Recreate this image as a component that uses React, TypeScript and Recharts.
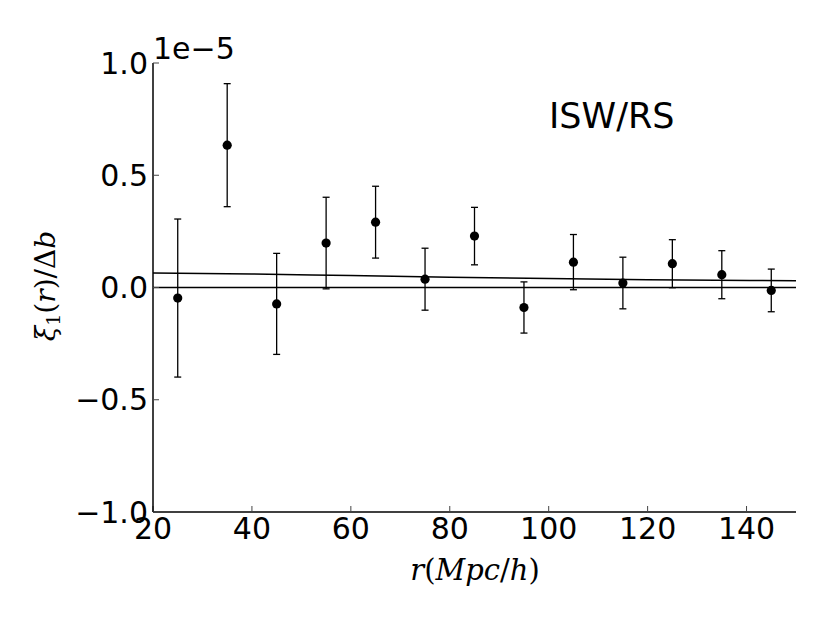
import React from "react";
import {
  ComposedChart,
  Scatter,
  Line,
  XAxis,
  YAxis,
  ErrorBar,
  ReferenceLine,
} from "recharts";

// values in units of 1e-5
const radii = [25, 35, 45, 55, 65, 75, 85, 95, 105, 115, 125, 135, 145];
const xi = [-0.047, 0.634, -0.073, 0.198, 0.291, 0.037, 0.229, -0.089, 0.113, 0.02, 0.106, 0.057, -0.013];
const xiErr = [0.352, 0.274, 0.225, 0.204, 0.16, 0.138, 0.128, 0.114, 0.123, 0.115, 0.107, 0.107, 0.095];

const modelR = [20, 40, 60, 80, 100, 120, 150];
const modelXi = [0.065, 0.06, 0.053, 0.046, 0.04, 0.035, 0.03];

const xTicks = [20, 40, 60, 80, 100, 120, 140];
const yTicks = [-1.0, -0.5, 0.0, 0.5, 1.0];

const points = radii.map((r, i) => ({ r, xi: xi[i], err: xiErr[i] }));
const model = modelR.map((r, i) => ({ r, model: modelXi[i] }));

const W = 830;
const H = 623;
const tickFont = { fontSize: 30, fontFamily: "DejaVu Sans", fill: "#000" };

const fmtY = (v: number) => (v < 0 ? "\u2212" + Math.abs(v).toFixed(1) : v.toFixed(1));

const Dot = (props: any) => <circle cx={props.cx} cy={props.cy} r={4.6} fill="#000" />;

export default function App() {
  return (
    <div style={{ position: "absolute", left: 0, top: 0, width: W, height: H, background: "#fff" }}>
      <ComposedChart
        width={W}
        height={H}
        margin={{ top: 63, right: 34, bottom: 71, left: 93 }}
      >
        <XAxis
          xAxisId="b"
          dataKey="r"
          type="number"
          domain={[20, 150]}
          ticks={xTicks}
          allowDataOverflow
          tick={tickFont}
          tickSize={-6}
          tickMargin={12}
          height={40}
          stroke="#000"
          axisLine={{ stroke: "#000", strokeWidth: 1.5 }}
          tickLine={{ stroke: "#444", strokeWidth: 1 }}
        />
        <XAxis
          xAxisId="t"
          orientation="top"
          dataKey="r"
          type="number"
          domain={[20, 150]}
          ticks={xTicks}
          allowDataOverflow
          tickFormatter={() => ""}
          tickSize={-6}
          height={0}
          axisLine={{ stroke: "#000", strokeWidth: 1.5 }}
          tickLine={{ stroke: "#444", strokeWidth: 1 }}
        />
        <YAxis
          yAxisId="l"
          type="number"
          domain={[-1, 1]}
          ticks={yTicks}
          allowDataOverflow
          tickFormatter={fmtY}
          tick={tickFont}
          tickSize={-6}
          tickMargin={11}
          width={60}
          axisLine={{ stroke: "#000", strokeWidth: 1.5 }}
          tickLine={{ stroke: "#444", strokeWidth: 1 }}
        />
        <YAxis
          yAxisId="r"
          orientation="right"
          type="number"
          domain={[-1, 1]}
          ticks={yTicks}
          allowDataOverflow
          tickFormatter={() => ""}
          tickSize={-6}
          width={0}
          axisLine={{ stroke: "#000", strokeWidth: 1.5 }}
          tickLine={{ stroke: "#444", strokeWidth: 1 }}
        />
        <ReferenceLine xAxisId="b" yAxisId="l" y={0} stroke="#000" strokeWidth={1.5} />
        <Line
          xAxisId="b"
          yAxisId="l"
          data={model}
          dataKey="model"
          type="monotone"
          stroke="#000"
          strokeWidth={1.5}
          dot={false}
          activeDot={false}
          isAnimationActive={false}
        />
        <Scatter
          xAxisId="b"
          yAxisId="l"
          data={points}
          dataKey="xi"
          shape={Dot}
          isAnimationActive={false}
        >
          <ErrorBar dataKey="err" direction="y" width={3.5} stroke="#000" strokeWidth={1.3} />
        </Scatter>
      </ComposedChart>
      <svg
        width={W}
        height={H}
        style={{ position: "absolute", left: 0, top: 0, pointerEvents: "none" }}
      >
        <text x={153} y={59} fontSize={30} fontFamily="DejaVu Sans" fill="#000">
          1e{"\u2212"}5
        </text>
        <text x={549} y={128} fontSize={35} fontFamily="DejaVu Sans" fill="#000">
          ISW/RS
        </text>
        <text
          x={475}
          y={580}
          fontSize={29}
          fontFamily="DejaVu Serif"
          textAnchor="middle"
          fill="#000"
        >
          <tspan fontStyle="italic">r</tspan>(<tspan fontStyle="italic">Mpc</tspan>/
          <tspan fontStyle="italic">h</tspan>)
        </text>
        <text
          x={0}
          y={0}
          fontSize={28}
          fontFamily="DejaVu Serif"
          textAnchor="middle"
          fill="#000"
          transform="translate(55,286) rotate(-90)"
        >
          <tspan fontStyle="italic">{"\u03be"}</tspan>
          <tspan fontSize={19} dy={5}>1</tspan>
          <tspan dy={-5}>(</tspan>
          <tspan fontStyle="italic">r</tspan>
          <tspan>)/{"\u0394"}</tspan>
          <tspan fontStyle="italic">b</tspan>
        </text>
      </svg>
    </div>
  );
}
